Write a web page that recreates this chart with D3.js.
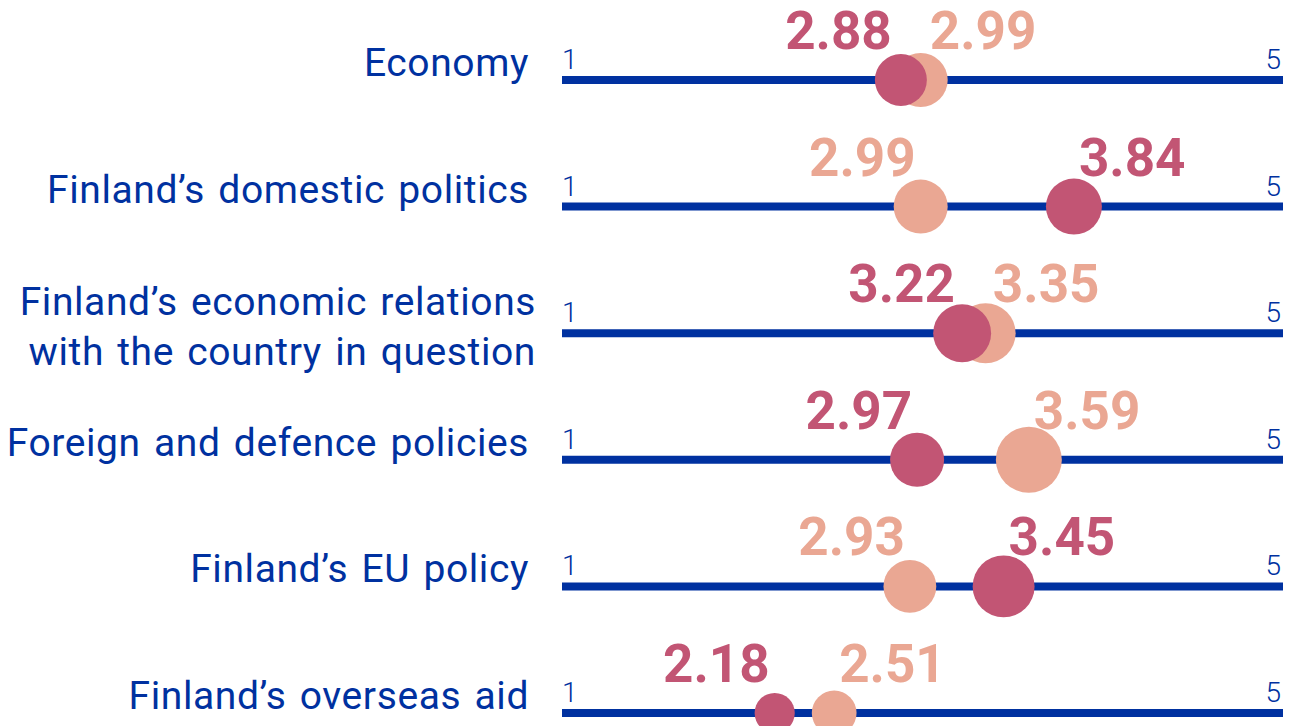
<!DOCTYPE html>
<html>
<head>
<meta charset="utf-8">
<script src="https://cdn.jsdelivr.net/npm/d3@7"></script>
<style>
  html, body { margin: 0; padding: 0; background: #fff; }
  #chart { width: 1289px; height: 726px; overflow: hidden; }
</style>
</head>
<body>
<div id="chart"></div>
<script>
// Data
const categories = [
  "Economy",
  "Finland’s domestic politics",
  "Finland’s economic relations\nwith the country in question",
  "Foreign and defence policies",
  "Finland’s EU policy",
  "Finland’s overseas aid",
];
const seriesDark = [2.88, 3.84, 3.22, 2.97, 3.45, 2.18];
const seriesLight = [2.99, 2.99, 3.35, 3.59, 2.93, 2.51];
// relative dot size (area), read from the circles
const weightDark = [62, 72, 77, 67, 88, 37];
const weightLight = [67, 67, 83, 100, 64, 46];
const scaleTicks = [1, 5];

const width = 1289, height = 726;
const blue = "#0031a0";
const darkColor = "#c25574";
const lightColor = "#eaa793";

const svg = d3.select("#chart")
  .append("svg")
  .attr("width", width)
  .attr("height", height);

const x = d3.scaleLinear().domain([1, 5]).range([562, 1283]);
const y = d3.scalePoint().domain(d3.range(categories.length)).range([80, 713]);
const r = d3.scaleSqrt().domain([0, 100]).range([0, 33]);

const rows = categories.map((c, i) => ({
  i,
  label: c,
  dark: seriesDark[i],
  light: seriesLight[i],
  wDark: weightDark[i],
  wLight: weightLight[i],
}));

const row = svg.selectAll(".row")
  .data(rows)
  .enter()
  .append("g")
  .attr("class", "row")
  .attr("transform", (d) => `translate(0,${y(d.i)})`);

// category labels
row.append("text")
  .attr("text-anchor", "end")
  .attr("fill", blue)
  .style("font-family", "Roboto, sans-serif")
  .style("font-size", "39px")
  .style("letter-spacing", "0.6px")
  .style("word-spacing", "3px")
  .each(function (d) {
    const lines = d.label.split("\n");
    const t = d3.select(this);
    const first = lines.length > 1 ? -18 : -4;
    lines.forEach((ln, k) => {
      t.append("tspan")
        .attr("x", lines.length > 1 ? 536 : 529)
        .attr("y", first + k * 50)
        .text(ln);
    });
  });

// the axis line
row.append("line")
  .attr("x1", x(1))
  .attr("x2", x(5))
  .attr("stroke", blue)
  .attr("stroke-width", 8);

// 1 and 5 end labels
row.selectAll(".tick")
  .data(scaleTicks)
  .enter()
  .append("text")
  .attr("class", "tick")
  .attr("x", (t) => (t === 1 ? x(t) : x(t) - 2))
  .attr("y", -11)
  .attr("text-anchor", (t) => (t === 1 ? "start" : "end"))
  .attr("fill", blue)
  .style("font-family", "Roboto, sans-serif")
  .style("font-weight", 300)
  .style("font-size", "28px")
  .text((t) => t);

// dots: light behind, dark on top
row.append("circle")
  .attr("cx", (d) => x(d.light))
  .attr("r", (d) => r(d.wLight))
  .attr("fill", lightColor);

row.append("circle")
  .attr("cx", (d) => x(d.dark))
  .attr("r", (d) => r(d.wDark))
  .attr("fill", darkColor);

// value labels, pushed apart around the midpoint of the two dots
row.each(function (d) {
  const g = d3.select(this);
  const vals = [
    { v: d.dark, color: darkColor },
    { v: d.light, color: lightColor },
  ].sort((a, b) => a.v - b.v);
  const lo = x(vals[0].v), hi = x(vals[1].v);
  const mid = (lo + hi) / 2;
  const gap = Math.max(hi - lo, 28) + 10;

  g.append("text")
    .attr("x", mid - gap / 2)
    .attr("y", -31)
    .attr("text-anchor", "end")
    .attr("fill", vals[0].color)
    .style("font-family", "Roboto, sans-serif")
    .style("font-weight", 700)
    .style("font-size", "53px")
    .text(d3.format(".2f")(vals[0].v));

  g.append("text")
    .attr("x", mid + gap / 2)
    .attr("y", -31)
    .attr("text-anchor", "start")
    .attr("fill", vals[1].color)
    .style("font-family", "Roboto, sans-serif")
    .style("font-weight", 700)
    .style("font-size", "53px")
    .text(d3.format(".2f")(vals[1].v));
});
</script>
</body>
</html>
